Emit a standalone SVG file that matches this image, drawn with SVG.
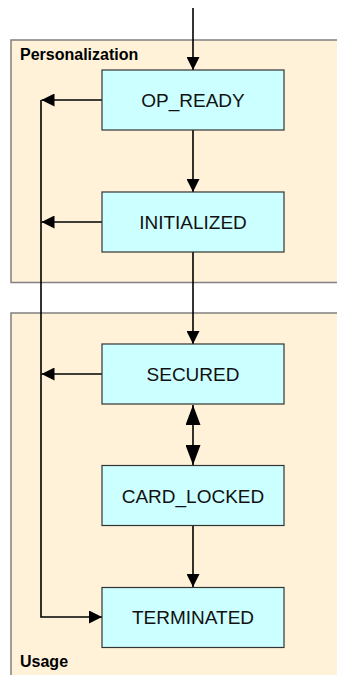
<svg xmlns="http://www.w3.org/2000/svg" width="337" height="675" viewBox="0 0 337 675">
<style>
.cont{fill:#FFF2D9;stroke:#808080;stroke-width:1.5}
.state{fill:#CCFFFF;stroke:#333;stroke-width:1.2}
.lbl{font-family:"Liberation Sans",Arial,sans-serif;font-size:19px;fill:#111;text-anchor:middle}
.clbl{font-family:"Liberation Sans",Arial,sans-serif;font-size:16px;font-weight:bold;fill:#000}
.conn{fill:none;stroke:#000;stroke-width:1.6}
</style>
<defs>
<marker id="ah" markerUnits="userSpaceOnUse" markerWidth="13" markerHeight="13" refX="13" refY="6.5" orient="auto"><path d="M0,0 L13,6.5 L0,13 z" fill="#000"/></marker>
<marker id="big" markerUnits="userSpaceOnUse" markerWidth="20" markerHeight="15" refX="20" refY="7.5" orient="auto-start-reverse"><path d="M0,0 L20,7.5 L0,15 z" fill="#000"/></marker>
</defs>
<rect width="337" height="675" fill="#fff"/>
<g id="personalization">
<rect class="cont" x="11" y="40" width="340" height="242.5"/>
<text class="clbl" x="20" y="60">Personalization</text>
</g>
<g id="usage">
<rect class="cont" x="11" y="313" width="340" height="380"/>
<text class="clbl" x="20" y="667">Usage</text>
</g>
<g id="connectors">
<line class="conn" x1="193" y1="8" x2="193" y2="70" marker-end="url(#ah)"/>
<line class="conn" x1="193" y1="130" x2="193" y2="192" marker-end="url(#ah)"/>
<line class="conn" x1="193" y1="252" x2="193" y2="344" marker-end="url(#ah)"/>
<line class="conn" x1="193" y1="405" x2="193" y2="465" marker-start="url(#big)" marker-end="url(#big)"/>
<line class="conn" x1="193" y1="526" x2="193" y2="587" marker-end="url(#ah)"/>
<line class="conn" x1="102" y1="100" x2="41.5" y2="100" marker-end="url(#ah)"/>
<line class="conn" x1="102" y1="222" x2="41.5" y2="222" marker-end="url(#ah)"/>
<line class="conn" x1="102" y1="374" x2="41.5" y2="374" marker-end="url(#ah)"/>
<path class="conn" d="M41,100 L41,617 L102,617" marker-end="url(#ah)"/>
</g>
<g id="op_ready">
<rect class="state" x="102" y="70" width="182" height="60"/>
<text class="lbl" x="193" y="107">OP_READY</text>
</g>
<g id="initialized">
<rect class="state" x="102" y="192" width="182" height="60"/>
<text class="lbl" x="193" y="229">INITIALIZED</text>
</g>
<g id="secured">
<rect class="state" x="102" y="344" width="182" height="60"/>
<text class="lbl" x="193" y="381">SECURED</text>
</g>
<g id="card_locked">
<rect class="state" x="102" y="465.5" width="182" height="60"/>
<text class="lbl" x="193" y="502.5">CARD_LOCKED</text>
</g>
<g id="terminated">
<rect class="state" x="102" y="587.5" width="182" height="60"/>
<text class="lbl" x="193" y="624">TERMINATED</text>
</g>
</svg>
